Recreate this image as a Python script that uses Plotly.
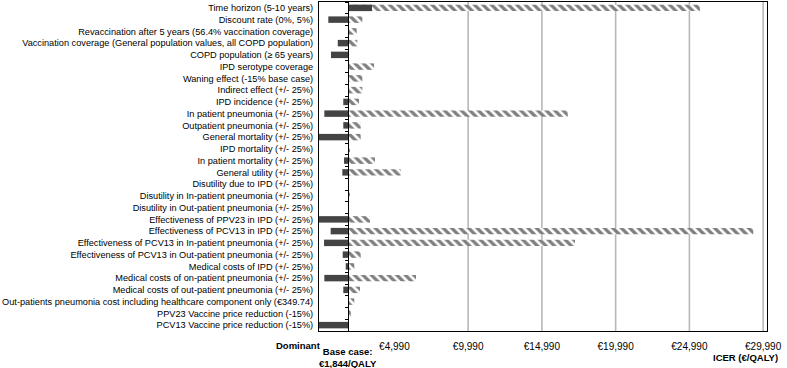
import plotly.graph_objects as go

parameters = [
    "Time horizon (5-10 years)",
    "Discount rate (0%, 5%)",
    "Revaccination after 5 years (56.4% vaccination coverage)",
    "Vaccination coverage (General population values, all COPD population)",
    "COPD population (≥ 65 years)",
    "IPD serotype coverage",
    "Waning effect (-15% base case)",
    "Indirect effect (+/- 25%)",
    "IPD incidence (+/- 25%)",
    "In patient pneumonia (+/- 25%)",
    "Outpatient pneumonia (+/- 25%)",
    "General mortality (+/- 25%)",
    "IPD mortality (+/- 25%)",
    "In patient mortality (+/- 25%)",
    "General utility (+/- 25%)",
    "Disutility due to IPD (+/- 25%)",
    "Disutility in In-patient pneumonia (+/- 25%)",
    "Disutility in Out-patient pneumonia (+/- 25%)",
    "Effectiveness of PPV23 in IPD (+/- 25%)",
    "Effectiveness of PCV13 in IPD (+/- 25%)",
    "Effectiveness of PCV13 in In-patient pneumonia (+/- 25%)",
    "Effectiveness of PCV13 in Out-patient pneumonia (+/- 25%)",
    "Medical costs of IPD (+/- 25%)",
    "Medical costs of on-patient pneumonia (+/- 25%)",
    "Medical costs of out-patient pneumonia (+/- 25%)",
    "Out-patients pneumonia cost including healthcare component only (€349.74)",
    "PPV23 Vaccine price reduction (-15%)",
    "PCV13 Vaccine price reduction (-15%)",
]

BASE_ICER = 1844
DOMINANT = -120  # plotted at the left edge of the axis

icer_low = [3470, 510, 1844, 1150, 690, 1844, 1844, 1844, 1525, 240,
            1525, DOMINANT, 1844, 1575, 1460, 1844, 1844, 1844, DOMINANT, 670,
            220, 1485, 1690, 240, 1525, 1844, 1844, DOMINANT]
icer_high = [25700, 2815, 2435, 2475, 1844, 3610, 2815, 2815, 2590, 16740,
             2705, 2705, 1980, 3675, 5420, 1870, 1930, 1860, 3340, 29320,
             17235, 2705, 2270, 6455, 2660, 2270, 2030, 1844]

tick_values = [4990, 9990, 14990, 19990, 24990, 29990]
tick_labels = ["€4,990", "€9,990", "€14,990", "€19,990", "€24,990", "€29,990"]
grid_values = [9990, 14990, 19990, 24990, 29990]

X_MIN, X_MAX = -122, 30252

fig = go.Figure()

fig.add_trace(go.Bar(
    y=parameters,
    x=[h - BASE_ICER for h in icer_high],
    base=BASE_ICER,
    orientation="h",
    width=0.55,
    marker=dict(color="white", line=dict(width=0),
                pattern=dict(shape="\\", fgcolor="black", bgcolor="white",
                             size=6, solidity=0.55)),
    showlegend=False,
    hoverinfo="skip",
))
fig.add_trace(go.Bar(
    y=parameters,
    x=[l - BASE_ICER for l in icer_low],
    base=BASE_ICER,
    orientation="h",
    width=0.55,
    yaxis="y2",
    marker=dict(color="#444444", line=dict(width=0)),
    showlegend=False,
    hoverinfo="skip",
))

for g in grid_values:
    fig.add_shape(type="line", xref="x", yref="paper", x0=g, x1=g, y0=0, y1=1,
                  line=dict(color="#b8b8b8", width=1.6), layer="below")

base_pos = (BASE_ICER - X_MIN) / (X_MAX - X_MIN)

fig.update_layout(
    width=787, height=368,
    margin=dict(l=319, r=20, t=2, b=37, autoexpand=False),
    paper_bgcolor="white", plot_bgcolor="white",
    font=dict(family="Liberation Sans, Arial, sans-serif", color="black", size=10),
    barmode="overlay",
    xaxis=dict(range=[X_MIN, X_MAX], showgrid=False, zeroline=False,
               tickvals=tick_values, ticktext=tick_labels, ticks="",
               ticklabelstandoff=6, tickfont=dict(size=10), automargin=False,
               showline=True, linecolor="black", linewidth=1, mirror=True),
    yaxis=dict(autorange="reversed", showgrid=False, zeroline=False,
               tickmode="array", tickvals=parameters, automargin=False,
               ticks="", tickfont=dict(size=9.2), ticklabelstandoff=3,
               showline=True, linecolor="black", linewidth=1, mirror=True),
    yaxis2=dict(overlaying="y", matches="y", anchor="free", position=base_pos,
                side="left", showgrid=False, zeroline=False, automargin=False,
                showticklabels=False, ticks="outside", ticklen=3,
                tickmode="array", tickvals=parameters,
                tickson="boundaries", tickcolor="black",
                showline=True, linecolor="black", linewidth=1),
    annotations=[
        dict(text="<b>Dominant</b>", xref="x", yref="paper", x=X_MIN, y=-0.045,
             xanchor="right", yanchor="middle", xshift=4, showarrow=False,
             font=dict(size=9.5)),
        dict(text="<b>Base case:<br>€1,844/QALY</b>", xref="x", yref="paper",
             x=BASE_ICER, y=-0.08, xanchor="center", yanchor="middle",
             showarrow=False, font=dict(size=9.5)),
        dict(text="<b>ICER (€/QALY)</b>", xref="paper", yref="paper",
             x=0.951, y=-0.082, xanchor="center", yanchor="middle",
             showarrow=False, font=dict(size=9.5)),
    ],
)

fig.write_html("out.html", config={"displayModeBar": False},
               post_script="document.body.style.margin='0';")
